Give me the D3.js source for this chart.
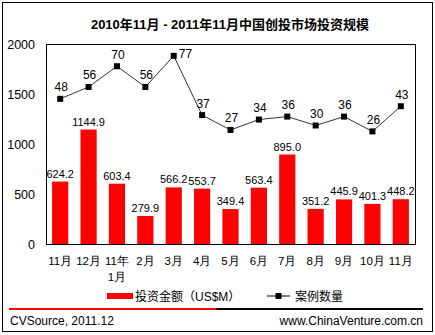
<!DOCTYPE html>
<html><head><meta charset="utf-8">
<script src="https://cdn.jsdelivr.net/npm/d3@7/dist/d3.min.js"></script>
<style>
html,body{margin:0;padding:0;background:#fff;}
svg{display:block;font-family:"Liberation Sans",Arial,"Noto Sans CJK SC",sans-serif;}
</style></head>
<body><svg id="c" width="435" height="335"></svg>
<script>
const categories = ["11月","12月","11年\n1月","2月","3月","4月","5月","6月","7月","8月","9月","10月","11月"];
const amounts = [624.2,1144.9,603.4,279.9,566.2,553.7,349.4,563.4,895.0,351.2,445.9,401.3,448.2];
const cases = [48,56,70,56,77,37,27,34,36,30,36,26,43];
const yTicks = [0,500,1000,1500,2000];
const title = "2010年11月 - 2011年11月中国创投市场投资规模";
const legendLabels = ["投资金额（US$M）","案例数量"];
const footerLeft = "CVSource, 2011.12";
const footerRight = "www.ChinaVenture.com.cn";

(function(){
const svg = d3.select("#c");
const pL = 46, pR = 415, pT = 44, pB = 244;

// outer frame
svg.append("rect").attr("x",2.5).attr("y",2.5).attr("width",430).attr("height",329)
  .attr("fill","none").attr("stroke","#000").attr("stroke-width",1);

// title
svg.append("text").attr("x",230).attr("y",29).attr("text-anchor","middle")
  .attr("font-size",13).attr("font-weight","bold").text(title);

const idx = categories.map((d,i)=>i);
const x = d3.scaleBand().domain(idx).range([pL,pR]).padding(0);
const y = d3.scaleLinear().domain([0,2000]).range([pB,pT]);
const y2 = d3.scaleLinear().domain([-50,85]).range([pB,pT]);
const barW = x.bandwidth()*0.57;

// y axis
const ya = svg.append("g").attr("transform",`translate(${pL},0)`)
  .call(d3.axisLeft(y).tickValues(yTicks).tickFormat(d3.format("d")).tickSize(0).tickPadding(11));
ya.select(".domain").remove();
ya.selectAll("text").attr("font-size",12.5).attr("fill","#000")
  .attr("font-family","\"Liberation Sans\",Arial,sans-serif");

// x axis
const xa = svg.append("g").attr("transform",`translate(0,${pB})`)
  .call(d3.axisBottom(x).tickSize(0).tickFormat(""));
xa.select(".domain").remove();
xa.selectAll(".tick").each(function(d){
  const t = d3.select(this).append("text").attr("fill","#000").attr("font-size",11.5)
    .attr("text-anchor","middle");
  categories[d].split("\n").forEach((s,k)=>{
    t.append("tspan").attr("x",0).attr("y",21+k*16).text(s);
  });
});

// bars
svg.append("g").selectAll("rect").data(amounts).join("rect")
  .attr("x",(d,i)=>x(i)+x.bandwidth()/2-barW/2)
  .attr("y",d=>y(d)).attr("width",barW).attr("height",d=>y(0)-y(d))
  .attr("fill","#ff0000");

svg.append("g").selectAll("text").data(amounts).join("text")
  .attr("x",(d,i)=>x(i)+x.bandwidth()/2)
  .attr("y",d=>y(d)-4).attr("text-anchor","middle").attr("font-size",11)
  .text(d=>d.toFixed(1));

// plot border
svg.append("rect").attr("x",pL+0.5).attr("y",pT+0.5)
  .attr("width",pR-pL).attr("height",pB-pT)
  .attr("fill","none").attr("stroke","#000").attr("stroke-width",1);

// line
const line = d3.line().x((d,i)=>x(i)+x.bandwidth()/2).y(d=>y2(d));
svg.append("path").datum(cases).attr("d",line).attr("fill","none")
  .attr("stroke","#333").attr("stroke-width",1);
svg.append("g").selectAll("rect").data(cases).join("rect")
  .attr("x",(d,i)=>x(i)+x.bandwidth()/2-3).attr("y",d=>y2(d)-3)
  .attr("width",6).attr("height",6).attr("fill","#000");
const maxCase = d3.max(cases);
svg.append("g").selectAll("text").data(cases).join("text")
  .attr("x",(d,i)=>x(i)+x.bandwidth()/2 + (d===maxCase?5:1))
  .attr("y",d=>d===maxCase? y2(d)+2.5 : y2(d)-7.5)
  .attr("text-anchor",d=>d===maxCase?"start":"middle")
  .attr("font-size",12).text(d=>d);

// legend
const lg = svg.append("g");
lg.append("rect").attr("x",107).attr("y",293).attr("width",26).attr("height",6).attr("fill","#ff0000");
lg.append("text").attr("x",135).attr("y",300.5).attr("font-size",12).text(legendLabels[0]);
lg.append("line").attr("x1",267).attr("x2",290).attr("y1",296).attr("y2",296).attr("stroke","#000");
lg.append("rect").attr("x",275.5).attr("y",293).attr("width",6).attr("height",6).attr("fill","#000");
lg.append("text").attr("x",295).attr("y",300.5).attr("font-size",12).text(legendLabels[1]);

// separator
svg.append("line").attr("x1",9).attr("x2",216).attr("y1",309).attr("y2",309).attr("stroke","#ff0000").attr("stroke-width",2);
svg.append("line").attr("x1",216).attr("x2",423).attr("y1",309).attr("y2",309).attr("stroke","#000").attr("stroke-width",2);

// footer
svg.append("text").attr("x",10).attr("y",325).attr("font-size",12).text(footerLeft);
svg.append("text").attr("x",423).attr("y",325).attr("text-anchor","end").attr("font-size",12).text(footerRight);
})();
</script></body></html>
